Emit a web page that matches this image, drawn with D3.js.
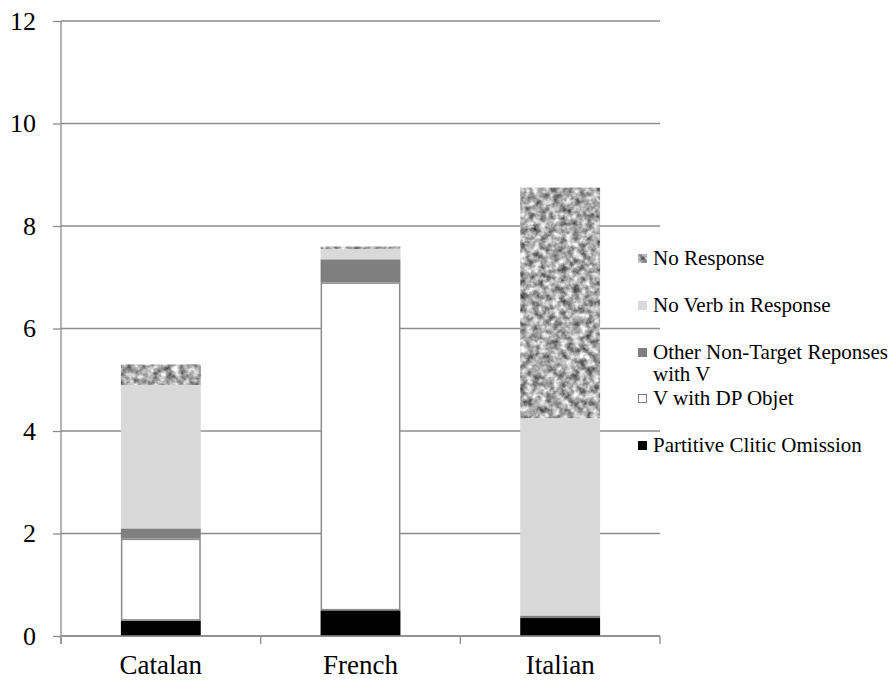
<!DOCTYPE html>
<html>
<head>
<meta charset="utf-8">
<script src="https://cdn.jsdelivr.net/npm/d3@7"></script>
<style>
  body { margin: 0; background: #fff; }
  svg text { font-family: "Liberation Serif", "Times New Roman", serif; fill: #000; }
</style>
</head>
<body>
<div id="chart"></div>
<script>
// categories and stacked series (bottom to top)
const languages = ["Catalan", "French", "Italian"];
const seriesNames = ["Partitive Clitic Omission", "V with DP Objet", "Other Non-Target Reponses with V", "No Verb in Response", "No Response"];
const partitiveOmission = [0.3, 0.5, 0.35];
const vWithDP = [1.6, 6.4, 0];
const otherNonTarget = [0.2, 0.45, 0.05];
const noVerb = [2.8, 0.2, 3.85];
const noResponse = [0.4, 0.05, 4.5];
const yTicks = [0, 2, 4, 6, 8, 10, 12];

const width = 895, height = 680;
const margin = {top: 21, right: 235, bottom: 44, left: 61};
const serif = "'Liberation Serif', 'Times New Roman', serif";

const svg = d3.select("#chart").append("svg")
    .attr("width", width)
    .attr("height", height);

// noise texture for "No Response"
const defs = svg.append("defs");
const filt = defs.append("filter")
    .attr("id", "noise")
    .attr("x", 0).attr("y", 0).attr("width", 1).attr("height", 1)
    .attr("color-interpolation-filters", "sRGB");
filt.append("feTurbulence")
    .attr("type", "fractalNoise")
    .attr("baseFrequency", 0.15)
    .attr("numOctaves", 3)
    .attr("seed", 7)
    .attr("result", "turb");
filt.append("feColorMatrix")
    .attr("in", "turb")
    .attr("type", "matrix")
    .attr("values", "1.15 0 0 0 0.09  1.15 0 0 0 0.09  1.15 0 0 0 0.09  0 0 0 0 1")
    .attr("result", "gray");
filt.append("feComposite")
    .attr("in", "gray")
    .attr("in2", "SourceGraphic")
    .attr("operator", "in");

const x = d3.scaleBand()
    .domain(languages)
    .range([margin.left, width - margin.right])
    .paddingInner(0.6)
    .paddingOuter(0.3);

const y = d3.scaleLinear()
    .domain([0, 12])
    .range([height - margin.bottom, margin.top]);

const axisColor = "#8c8c8c";

// gridlines + y axis
const yAxis = svg.append("g")
    .attr("transform", `translate(${margin.left},0)`)
    .call(d3.axisLeft(y).tickValues(yTicks).tickSize(8).tickPadding(17).tickFormat(d3.format("d")))
    .attr("font-family", serif);
yAxis.select(".domain").remove();
yAxis.selectAll(".tick line").attr("stroke", axisColor).attr("stroke-width", 1.3);
yAxis.selectAll(".tick text").attr("font-size", 26).attr("font-family", serif);

svg.append("g").selectAll("line")
    .data(yTicks)
    .join("line")
    .attr("x1", margin.left)
    .attr("x2", width - margin.right)
    .attr("y1", d => y(d))
    .attr("y2", d => y(d))
    .attr("stroke", axisColor)
    .attr("stroke-width", 1.3);

// vertical axis line
svg.append("line")
    .attr("x1", margin.left).attr("x2", margin.left)
    .attr("y1", y(12)).attr("y2", y(0) + 8)
    .attr("stroke", axisColor).attr("stroke-width", 1.3);

// stacked bars
const colors = ["#000000", "#ffffff", "#7f7f7f", "#d9d9d9", "#999999"];
const table = languages.map((lang, i) => ({
    lang,
    s0: partitiveOmission[i],
    s1: vWithDP[i],
    s2: otherNonTarget[i],
    s3: noVerb[i],
    s4: noResponse[i]
}));
const stack = d3.stack().keys(["s0", "s1", "s2", "s3", "s4"]);
const stacked = stack(table);

stacked.forEach((layer, k) => {
    const inset = k === 1 ? 0.75 : 0;
    svg.append("g").selectAll("rect")
        .data(layer.filter(d => d[1] - d[0] > 0))
        .join("rect")
        .attr("x", d => x(d.data.lang) + inset)
        .attr("width", x.bandwidth() - 2 * inset)
        .attr("y", d => y(d[1]) + inset)
        .attr("height", d => y(d[0]) - y(d[1]) - 2 * inset)
        .attr("fill", colors[k])
        .attr("filter", k === 4 ? "url(#noise)" : null)
        .attr("stroke", k === 1 ? axisColor : "none")
        .attr("stroke-width", 1.5);
});

// x axis baseline with ticks at category boundaries
const x0 = y(0);
svg.append("line")
    .attr("x1", margin.left).attr("x2", width - margin.right)
    .attr("y1", x0).attr("y2", x0)
    .attr("stroke", axisColor).attr("stroke-width", 1.3);
const bounds = d3.range(languages.length + 1).map(i => margin.left + i * x.step());
svg.append("g").selectAll("line")
    .data(bounds)
    .join("line")
    .attr("x1", d => d).attr("x2", d => d)
    .attr("y1", x0).attr("y2", x0 + 8)
    .attr("stroke", axisColor).attr("stroke-width", 1.3);
svg.append("g").selectAll("text")
    .data(languages)
    .join("text")
    .attr("x", d => x(d) + x.bandwidth() / 2)
    .attr("y", 674)
    .attr("text-anchor", "middle")
    .attr("font-family", serif)
    .attr("font-size", 27)
    .text(d => d);

// legend (top to bottom = reversed stack)
const legendItems = [
    {k: 4, lines: ["No Response"], y: 265},
    {k: 3, lines: ["No Verb in Response"], y: 312},
    {k: 2, lines: ["Other Non-Target Reponses", "with V"], y: 359},
    {k: 1, lines: ["V with DP Objet"], y: 405},
    {k: 0, lines: ["Partitive Clitic Omission"], y: 452}
];
const legend = svg.append("g");
legendItems.forEach(it => {
    legend.append("rect")
        .attr("x", it.k === 1 ? 638.5 : 638)
        .attr("y", it.y - (it.k === 1 ? 10.5 : 11))
        .attr("width", it.k === 1 ? 8 : 9)
        .attr("height", it.k === 1 ? 8 : 9)
        .attr("fill", colors[it.k])
        .attr("filter", it.k === 4 ? "url(#noise)" : null)
        .attr("stroke", it.k === 1 ? "#7f7f7f" : "none")
        .attr("stroke-width", 1);
    const t = legend.append("text")
        .attr("x", 653)
        .attr("y", it.y)
        .attr("font-family", serif)
        .attr("font-size", 21);
    it.lines.forEach((ln, j) => {
        t.append("tspan").attr("x", 653).attr("dy", j === 0 ? 0 : 22).text(ln);
    });
});
</script>
</body>
</html>
